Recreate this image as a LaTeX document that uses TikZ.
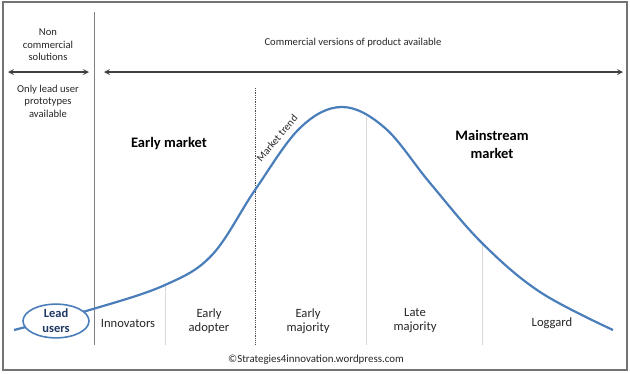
\documentclass[tikz,border=0pt]{standalone}
\usepackage{fontspec}
\setmainfont{Carlito}
\usepackage{xcolor}
\usetikzlibrary{shapes, arrows, positioning, calc}

\definecolor{curveblue}{HTML}{4A7EBB}
\definecolor{leadblue}{HTML}{1F3864}

\begin{document}
\begin{tikzpicture}[x=1pt, y=-1pt,
  small/.style={font=\fontsize{10.6}{12.5}\selectfont, align=center, text=black!85},
  phase/.style={font=\fontsize{12.6}{14}\selectfont, align=center, text=black!85},
  market/.style={font=\fontsize{14.5}{18}\selectfont\bfseries, align=center},
  span/.style={draw=black!75, line width=1.6pt, -stealth},
  divider/.style={draw=black!15, line width=1pt}]

\useasboundingbox (0,0) rectangle (630,373);
\draw[black!55, line width=1.2pt] (3,2) rectangle (627,370);

% time spans on top
\coordinate (ncl) at (8,72);
\coordinate (ncr) at (89,72);
\coordinate (cl) at (104,72);
\coordinate (cr) at (623,72);
\coordinate (sep top) at (94,12);
\coordinate (sep bot) at (94,345);
\draw[black!50, line width=1pt] (sep top) -- (sep bot);
\draw[span, stealth-stealth] (ncl) -- (ncr);
\draw[span, stealth-stealth] (cl) -- (cr);

\node[small] (noncom) at (48,45) {Non\\commercial\\solutions};
\node[small] (proto) at (48,101) {Only lead user\\prototypes\\available};
\node[small] (com) at (353,43) {Commercial versions of product available};

\node[market] (early) at (169,144) {Early market};
\node[market] (main) at (492,144) {Mainstream\\market};

% segment dividers
\coordinate (d1) at (165,285);
\coordinate (d2) at (255,88);
\coordinate (d3) at (366,117);
\coordinate (d4) at (482,243);
\draw[divider] (d1) -- (d1 |- sep bot);
\draw[black!70, line width=0.8pt, densely dotted] (d2) -- (d2 |- sep bot);
\draw[divider] (d3) -- (d3 |- sep bot);
\draw[divider] (d4) -- (d4 |- sep bot);

% adoption curve
\draw[curveblue, line width=2.2pt] plot[smooth, tension=0.6] coordinates {
  (14,330) (93,309) (165,285) (212,255) (255,190) (300,128)
  (342,107) (385,128) (430,183) (482,243) (540,292) (613,330)};

\node[ellipse, draw=curveblue, line width=1.6pt, fill=white, minimum width=66pt,
  minimum height=32pt, inner sep=0pt, text=leadblue, font=\fontsize{12.5}{15}\selectfont\bfseries,
  align=center] (lead) at (56,321) {Lead\\users};

\node[small, rotate=50] (trend) at (277,138) {Market trend};

\node[phase] (innov) at (128,323) {Innovators};
\node[phase] (adopt) at (209,321) {Early\\adopter};
\node[phase] (emaj) at (308,321) {Early\\majority};
\node[phase] (lmaj) at (415,321) {Late\\majority};
\node[phase] (lag) at (552,323) {Loggard};

\node[font=\fontsize{10.9}{12}\selectfont, text=black!85] (copy) at (316,360) {\textcopyright Strategies4innovation.wordpress.com};

\end{tikzpicture}
\end{document}
